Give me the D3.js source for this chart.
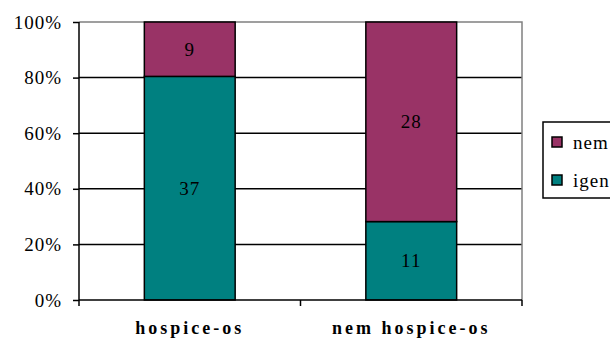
<html>
<head>
  <meta charset="utf8">
  <style>
  * { margin: 0; padding: 0; }
  body { background: #fff; }
  svg text { font-family: "Liberation Serif", "Times New Roman", serif; }
  </style>
</head>
<body>
  <script src="https://cdn.jsdelivr.net/npm/d3@7"></script>
  <script>
  var w = 610;
  var h = 338;

  // data
  var categories = ["hospice-os", "nem hospice-os"];
  var igen = [37, 11];
  var nem = [9, 28];
  var seriesNames = ["igen", "nem"];
  var seriesColors = ["#008080", "#993366"];
  var yTicks = [0, 0.2, 0.4, 0.6, 0.8, 1];

  var plotLeft = 79, plotRight = 522, plotTop = 22, plotBottom = 300;
  var serif = '"Liberation Serif", "Times New Roman", serif';

  var rows = categories.map(function(c, i) {
    var t = igen[i] + nem[i];
    return { cat: c, igen: igen[i] / t, nem: nem[i] / t, raw: { igen: igen[i], nem: nem[i] } };
  });
  var stack = d3.stack().keys(seriesNames)(rows);

  var xScale = d3.scaleBand()
    .domain(categories)
    .range([plotLeft, plotRight])
    .paddingInner(0.59)
    .paddingOuter(0.295);
  var yScale = d3.scaleLinear()
    .domain([0, 1])
    .range([plotBottom, plotTop]);

  var svg = d3.select("body")
    .append("svg")
    .attr("width", w)
    .attr("height", h);

  // gridlines
  svg.selectAll("line.grid")
    .data(yTicks.filter(function(d) { return d > 0 && d < 1; }))
    .enter()
    .append("line")
    .attr("x1", plotLeft)
    .attr("x2", plotRight)
    .attr("y1", function(d) { return yScale(d); })
    .attr("y2", function(d) { return yScale(d); })
    .attr("stroke", "#000")
    .attr("stroke-width", 1.5);

  // plot border (top, right)
  svg.append("path")
    .attr("d", "M" + plotLeft + "," + plotTop + "H" + plotRight + "V" + plotBottom)
    .attr("fill", "none")
    .attr("stroke", "#808080")
    .attr("stroke-width", 1.5);

  // bars
  var layers = svg.selectAll("g.layer")
    .data(stack)
    .enter()
    .append("g")
    .attr("fill", function(d, i) { return seriesColors[i]; });

  layers.selectAll("rect")
    .data(function(d) { return d; })
    .enter()
    .append("rect")
    .attr("x", function(d) { return xScale(d.data.cat); })
    .attr("width", xScale.bandwidth())
    .attr("y", function(d) { return yScale(d[1]); })
    .attr("height", function(d) { return yScale(d[0]) - yScale(d[1]); })
    .attr("stroke", "#000")
    .attr("stroke-width", 1.5);

  // value labels
  stack.forEach(function(layer) {
    svg.selectAll(null)
      .data(layer)
      .enter()
      .append("text")
      .text(function(d) { return d.data.raw[layer.key]; })
      .attr("x", function(d) { return xScale(d.data.cat) + xScale.bandwidth() / 2; })
      .attr("y", function(d) { return yScale((d[0] + d[1]) / 2); })
      .attr("dy", "0.35em")
      .attr("text-anchor", "middle")
      .style("font-family", serif)
      .style("font-size", "19px")
      .style("letter-spacing", "1px")
      .attr("fill", "#000");
  });

  // y axis
  var yAxis = d3.axisLeft(yScale)
    .tickValues(yTicks)
    .tickFormat(d3.format(".0%"))
    .tickSize(6)
    .tickPadding(11);
  var gy = svg.append("g")
    .attr("transform", "translate(" + plotLeft + ",0)")
    .call(yAxis);
  gy.select(".domain").attr("stroke-width", 1.5).attr("d", "M0," + plotTop + "V" + plotBottom);
  gy.selectAll(".tick line").attr("stroke-width", 1.5);
  gy.selectAll(".tick text")
    .style("font-family", serif)
    .style("font-size", "19px")
    .style("letter-spacing", "1px")
    .attr("fill", "#000");

  // x axis
  var gx = svg.append("g")
    .attr("transform", "translate(0," + plotBottom + ")");
  gx.append("line")
    .attr("x1", plotLeft).attr("x2", plotRight)
    .attr("stroke", "#000").attr("stroke-width", 1.5);
  var bounds = [plotLeft, (plotLeft + plotRight) / 2, plotRight];
  gx.selectAll("line.tk")
    .data(bounds)
    .enter()
    .append("line")
    .attr("x1", function(d) { return d; })
    .attr("x2", function(d) { return d; })
    .attr("y1", 0).attr("y2", 6)
    .attr("stroke", "#000").attr("stroke-width", 1.5);
  gx.selectAll("text")
    .data(categories)
    .enter()
    .append("text")
    .text(function(d) { return d; })
    .attr("x", function(d) { return xScale(d) + xScale.bandwidth() / 2; })
    .attr("y", 34)
    .attr("text-anchor", "middle")
    .style("font-family", serif)
    .style("font-weight", "bold")
    .style("font-size", "18px")
    .style("letter-spacing", "3px")
    .attr("fill", "#000");

  // legend
  var lg = svg.append("g");
  lg.append("rect")
    .attr("x", 543).attr("y", 122)
    .attr("width", 80).attr("height", 76)
    .attr("fill", "#fff")
    .attr("stroke", "#000").attr("stroke-width", 1.5);
  var legendItems = [
    { name: seriesNames[1], color: seriesColors[1] },
    { name: seriesNames[0], color: seriesColors[0] }
  ];
  var li = lg.selectAll("g.item")
    .data(legendItems)
    .enter()
    .append("g")
    .attr("transform", function(d, i) { return "translate(552," + (142 + i * 38) + ")"; });
  li.append("rect")
    .attr("x", 0).attr("y", -5)
    .attr("width", 10).attr("height", 10)
    .attr("fill", function(d) { return d.color; })
    .attr("stroke", "#000").attr("stroke-width", 1.5);
  li.append("text")
    .text(function(d) { return d.name; })
    .attr("x", 21)
    .attr("y", 0)
    .attr("dy", "0.35em")
    .style("font-family", serif)
    .style("font-size", "19px")
    .style("letter-spacing", "1px")
    .attr("fill", "#000");
  </script>
</body>
</html>
